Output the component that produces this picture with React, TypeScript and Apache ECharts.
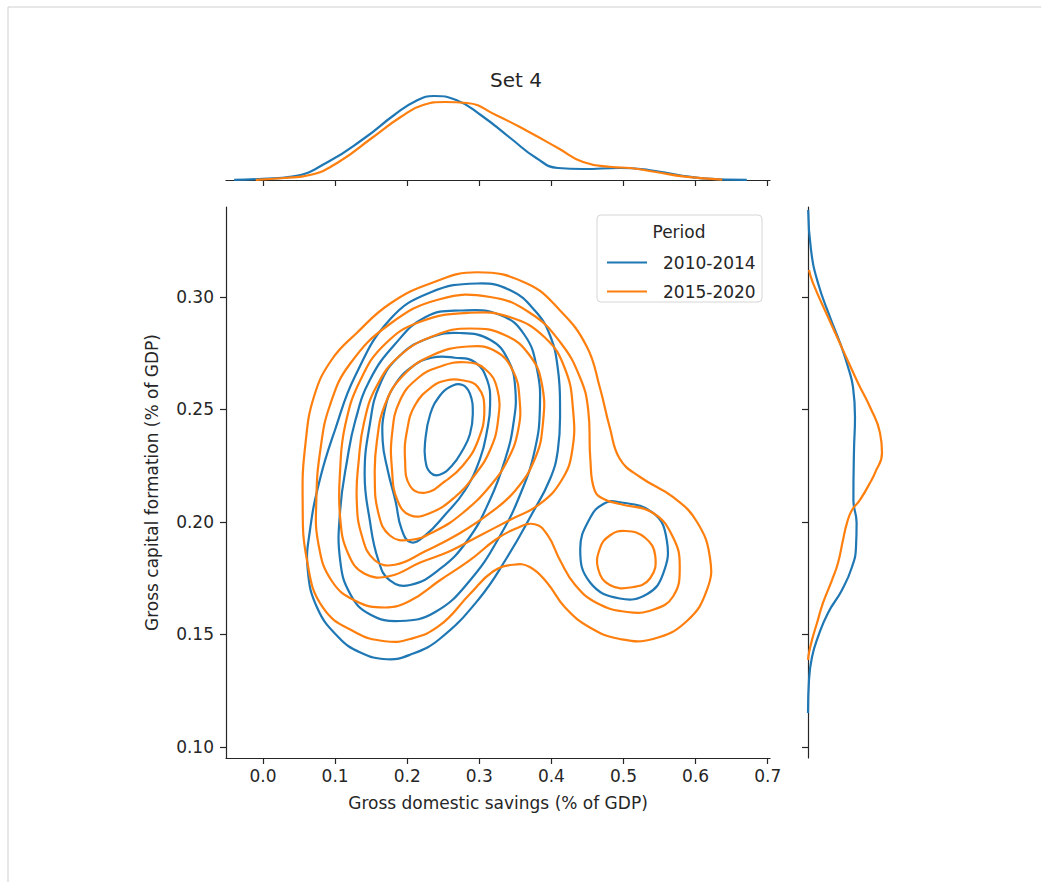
import React, { useEffect, useRef } from "react";
import * as echarts from "echarts";

// ---------- data ----------
const PERIODS = ["2010-2014", "2015-2020"];
const X_TICKS = [0.0, 0.1, 0.2, 0.3, 0.4, 0.5, 0.6, 0.7];
const Y_TICKS = [0.1, 0.15, 0.2, 0.25, 0.3];

// KDE contours (x = Gross domestic savings, y = Gross capital formation), 2010-2014
const BLUE_C1 = [[0.297,0.306],[0.343,0.303],[0.377,0.294],[0.398,0.283],[0.409,0.268],[0.412,0.250],[0.409,0.232],[0.398,0.219],[0.372,0.203],[0.338,0.184],[0.300,0.166],[0.245,0.148],[0.204,0.141],[0.172,0.139],[0.135,0.142],[0.104,0.149],[0.075,0.162],[0.062,0.179],[0.065,0.196],[0.079,0.219],[0.100,0.241],[0.128,0.265],[0.176,0.290],[0.232,0.302]];
const BLUE_C2 = [[0.273,0.294],[0.329,0.292],[0.363,0.283],[0.380,0.268],[0.384,0.250],[0.377,0.232],[0.359,0.214],[0.329,0.194],[0.287,0.174],[0.239,0.160],[0.190,0.156],[0.148,0.159],[0.121,0.168],[0.107,0.183],[0.107,0.205],[0.117,0.228],[0.128,0.245],[0.148,0.263],[0.183,0.279],[0.225,0.291]];
const BLUE_C3 = [[0.273,0.284],[0.315,0.281],[0.340,0.272],[0.350,0.259],[0.347,0.243],[0.336,0.228],[0.315,0.210],[0.284,0.192],[0.245,0.179],[0.204,0.172],[0.176,0.174],[0.160,0.183],[0.148,0.201],[0.141,0.221],[0.148,0.243],[0.162,0.261],[0.190,0.274],[0.232,0.282]];
const BLUE_C4 = [[0.266,0.273],[0.294,0.271],[0.311,0.263],[0.315,0.252],[0.311,0.241],[0.301,0.228],[0.280,0.214],[0.252,0.203],[0.225,0.194],[0.205,0.191],[0.192,0.197],[0.184,0.209],[0.173,0.223],[0.166,0.236],[0.169,0.250],[0.183,0.261],[0.207,0.269],[0.234,0.273]];
const BLUE_C5 = [[0.276,0.261],[0.287,0.257],[0.291,0.248],[0.287,0.239],[0.277,0.232],[0.262,0.225],[0.245,0.221],[0.232,0.222],[0.225,0.228],[0.225,0.236],[0.232,0.248],[0.245,0.256],[0.259,0.260]];
const BLUE_LOBE = [[0.491,0.209],[0.541,0.204],[0.560,0.192],[0.555,0.177],[0.533,0.168],[0.495,0.166],[0.454,0.173],[0.440,0.188],[0.454,0.202],[0.472,0.208]];

// KDE contours, 2015-2020
const ORANGE_C1 = [[0.297,0.311],[0.366,0.306],[0.412,0.294],[0.449,0.278],[0.467,0.260],[0.481,0.242],[0.495,0.228],[0.523,0.220],[0.569,0.211],[0.602,0.200],[0.620,0.184],[0.616,0.170],[0.588,0.156],[0.541,0.148],[0.495,0.148],[0.454,0.153],[0.419,0.162],[0.394,0.173],[0.370,0.180],[0.347,0.181],[0.319,0.178],[0.287,0.168],[0.245,0.154],[0.204,0.148],[0.169,0.147],[0.128,0.151],[0.083,0.162],[0.061,0.183],[0.055,0.210],[0.059,0.235],[0.071,0.256],[0.095,0.272],[0.130,0.284],[0.176,0.297],[0.232,0.306]];
const ORANGE_C2 = [[0.315,0.300],[0.370,0.293],[0.412,0.280],[0.440,0.264],[0.451,0.250],[0.454,0.228],[0.460,0.214],[0.474,0.210],[0.495,0.208],[0.541,0.204],[0.569,0.193],[0.578,0.180],[0.569,0.167],[0.541,0.161],[0.505,0.160],[0.463,0.164],[0.433,0.172],[0.412,0.183],[0.395,0.194],[0.377,0.199],[0.350,0.197],[0.322,0.192],[0.287,0.183],[0.245,0.174],[0.204,0.165],[0.169,0.162],[0.128,0.165],[0.095,0.174],[0.077,0.190],[0.074,0.210],[0.080,0.233],[0.093,0.252],[0.120,0.270],[0.176,0.288],[0.245,0.299]];
const ORANGE_C3 = [[0.287,0.293],[0.343,0.291],[0.391,0.282],[0.419,0.268],[0.430,0.250],[0.429,0.232],[0.415,0.219],[0.384,0.208],[0.343,0.201],[0.301,0.194],[0.259,0.187],[0.218,0.182],[0.176,0.176],[0.141,0.177],[0.118,0.186],[0.107,0.202],[0.107,0.223],[0.114,0.243],[0.135,0.263],[0.169,0.279],[0.218,0.289]];
const ORANGE_C4 = [[0.287,0.286],[0.336,0.283],[0.370,0.274],[0.387,0.261],[0.388,0.243],[0.377,0.228],[0.350,0.214],[0.315,0.204],[0.273,0.195],[0.225,0.187],[0.183,0.181],[0.155,0.183],[0.137,0.194],[0.130,0.210],[0.133,0.228],[0.140,0.244],[0.157,0.260],[0.190,0.274],[0.239,0.283]];
const ORANGE_C5 = [[0.284,0.278],[0.322,0.276],[0.347,0.267],[0.356,0.254],[0.354,0.241],[0.340,0.228],[0.315,0.216],[0.277,0.204],[0.239,0.196],[0.204,0.192],[0.176,0.194],[0.160,0.204],[0.155,0.221],[0.158,0.236],[0.169,0.252],[0.194,0.265],[0.234,0.274]];
const ORANGE_C6 = [[0.280,0.271],[0.308,0.268],[0.325,0.259],[0.326,0.245],[0.315,0.232],[0.294,0.221],[0.266,0.211],[0.232,0.204],[0.204,0.203],[0.186,0.210],[0.179,0.223],[0.179,0.239],[0.190,0.254],[0.215,0.264],[0.245,0.269]];
const ORANGE_C7 = [[0.276,0.263],[0.298,0.260],[0.307,0.250],[0.298,0.236],[0.277,0.225],[0.252,0.218],[0.225,0.213],[0.204,0.216],[0.197,0.228],[0.200,0.241],[0.211,0.252],[0.234,0.260],[0.255,0.263]];
const ORANGE_LOBE = [[0.503,0.196],[0.530,0.193],[0.544,0.185],[0.537,0.175],[0.512,0.171],[0.481,0.172],[0.465,0.179],[0.467,0.188],[0.481,0.194]];

// marginal densities: top (x, density), right (density, y)
const TOP_BLUE = [[-0.04,0.01],[0,0.06],[0.04,0.17],[0.09,0.9],[0.141,2.1],[0.182,3.25],[0.212,3.95],[0.237,4.2],[0.268,4.0],[0.302,3.25],[0.343,2.1],[0.379,1.1],[0.409,0.6],[0.444,0.55],[0.495,0.6],[0.535,0.5],[0.576,0.25],[0.61,0.085],[0.671,0.01]];
const TOP_ORANGE = [[-0.01,0.01],[0.03,0.1],[0.065,0.25],[0.105,0.9],[0.151,2.1],[0.191,3.15],[0.222,3.75],[0.252,3.9],[0.283,3.85],[0.323,3.25],[0.369,2.4],[0.409,1.6],[0.444,0.9],[0.484,0.65],[0.509,0.6],[0.545,0.4],[0.585,0.17],[0.637,0.015]];
const RIGHT_BLUE = [[0.01,0.3387],[0.15,0.3209],[0.5,0.3062],[1.1,0.2911],[1.6,0.2796],[2.0,0.2689],[2.25,0.26],[2.35,0.2467],[2.3,0.232],[2.27,0.2098],[2.43,0.1996],[2.4,0.1889],[2.2,0.18],[1.7,0.1698],[1.0,0.1596],[0.5,0.1489],[0.2,0.14],[0.05,0.1298],[0.0,0.1151]];
const RIGHT_ORANGE = [[0.05,0.312],[0.25,0.3062],[1.0,0.2911],[1.75,0.2764],[2.5,0.2618],[3.1,0.2511],[3.6,0.2396],[3.7,0.2307],[3.35,0.2218],[3.18,0.2187],[2.6,0.2098],[2.2,0.2053],[1.95,0.1996],[1.75,0.192],[1.5,0.1818],[1.2,0.1742],[0.75,0.164],[0.45,0.1551],[0.2,0.1476],[0.05,0.1418],[0,0.1387]];

const BLUE_CONTOURS = [BLUE_C1, BLUE_C2, BLUE_C3, BLUE_C4, BLUE_C5, BLUE_LOBE];
const ORANGE_CONTOURS = [ORANGE_C1, ORANGE_C2, ORANGE_C3, ORANGE_C4, ORANGE_C5, ORANGE_C6, ORANGE_C7, ORANGE_LOBE];

// ---------- styling ----------
const COLORS = ["#1f77b4", "#ff7f0e"];
const FONT = "DejaVu Sans";
const INK = "#262626";
const X_MIN = -0.0513, X_MAX = 0.7032;
const Y_MIN = 0.0951, Y_MAX = 0.34;
const LW = 2.2;

function contourSeries(name: string, color: string, pts: number[][]) {
  return {
    type: "custom",
    name,
    coordinateSystem: "cartesian2d",
    xAxisIndex: 0,
    yAxisIndex: 0,
    data: pts,
    encode: { x: 0, y: 1 },
    itemStyle: { color },
    silent: true,
    z: 2,
    renderItem: (params: any, api: any) => {
      if (params.dataIndex !== 0) return null;
      const points = pts.map((p) => api.coord(p));
      return {
        type: "polygon",
        shape: { points, smooth: 0.45 },
        style: { fill: "none", stroke: color, lineWidth: LW },
      };
    },
  };
}

function lineSeries(name: string, color: string, data: number[][], axis: number) {
  return {
    type: "line",
    name,
    xAxisIndex: axis,
    yAxisIndex: axis,
    data,
    smooth: true,
    showSymbol: false,
    symbol: "none",
    silent: true,
    lineStyle: { color, width: LW },
    itemStyle: { color },
  };
}

const axisLineStyle = { show: true, onZero: false, lineStyle: { color: INK, width: 1.2 } };
const tickStyle = (vals: number[]) => ({ show: true, customValues: vals, length: 6, lineStyle: { color: INK, width: 1.2 } });

export default function App() {
  const ref = useRef<HTMLDivElement>(null);
  useEffect(() => {
    document.body.style.margin = "0";
    const chart = echarts.init(ref.current!, null, { renderer: "svg" });
    const series: any[] = [];
    BLUE_CONTOURS.forEach((c) => series.push(contourSeries(PERIODS[0], COLORS[0], c)));
    ORANGE_CONTOURS.forEach((c) => series.push(contourSeries(PERIODS[1], COLORS[1], c)));
    series.push(lineSeries(PERIODS[0], COLORS[0], TOP_BLUE, 1));
    series.push(lineSeries(PERIODS[1], COLORS[1], TOP_ORANGE, 1));
    series.push(lineSeries(PERIODS[0], COLORS[0], RIGHT_BLUE, 2));
    series.push(lineSeries(PERIODS[1], COLORS[1], RIGHT_ORANGE, 2));

    chart.setOption({
      animation: false,
      textStyle: { fontFamily: FONT },
      grid: [
        { left: 226, top: 207, width: 544, height: 551 },
        { left: 226, top: 80, width: 544, height: 100 },
        { left: 808, top: 207, width: 100, height: 551 },
      ],
      xAxis: [
        {
          gridIndex: 0, type: "value", min: X_MIN, max: X_MAX,
          axisLine: axisLineStyle, axisTick: tickStyle(X_TICKS), splitLine: { show: false },
          axisLabel: { customValues: X_TICKS, formatter: (v: number) => v.toFixed(1), fontSize: 17, color: INK, margin: 9, fontFamily: FONT },
          name: "Gross domestic savings (% of GDP)", nameLocation: "middle", nameGap: 36,
          nameTextStyle: { fontSize: 17, color: INK, fontFamily: FONT },
        },
        {
          gridIndex: 1, type: "value", min: X_MIN, max: X_MAX,
          axisLine: axisLineStyle, axisTick: tickStyle(X_TICKS), splitLine: { show: false },
          axisLabel: { show: false },
        },
        { gridIndex: 2, type: "value", min: 0, max: 5, show: false },
      ],
      yAxis: [
        {
          gridIndex: 0, type: "value", min: Y_MIN, max: Y_MAX,
          axisLine: axisLineStyle, axisTick: tickStyle(Y_TICKS), splitLine: { show: false },
          axisLabel: { customValues: Y_TICKS, formatter: (v: number) => v.toFixed(2), fontSize: 17, color: INK, margin: 12, fontFamily: FONT },
          name: "Gross capital formation (% of GDP)", nameLocation: "middle", nameGap: 66,
          nameTextStyle: { fontSize: 17, color: INK, fontFamily: FONT },
        },
        { gridIndex: 1, type: "value", min: 0, max: 5, show: false },
        {
          gridIndex: 2, type: "value", min: Y_MIN, max: Y_MAX,
          axisLine: axisLineStyle, axisTick: tickStyle(Y_TICKS), splitLine: { show: false },
          axisLabel: { show: false },
        },
      ],
      legend: {
        data: [
          { name: PERIODS[0], itemStyle: { color: COLORS[0] } },
          { name: PERIODS[1], itemStyle: { color: COLORS[1] } },
        ],
        orient: "vertical",
        left: 602,
        top: 249,
        icon: "rect",
        itemWidth: 40,
        itemHeight: 2,
        itemGap: 12,
        selectedMode: false,
        textStyle: { fontSize: 17, color: INK, fontFamily: FONT, lineHeight: 17, padding: [0, 0, 0, 11] },
      },
      graphic: [
        { type: "line", shape: { x1: 8, y1: 7, x2: 1041, y2: 7 }, style: { stroke: "#cfcfcf", lineWidth: 1 } },
        { type: "line", shape: { x1: 8, y1: 7, x2: 8, y2: 882 }, style: { stroke: "#cfcfcf", lineWidth: 1 } },
        {
          type: "text", x: 516, y: 80,
          style: { text: "Set 4", fontSize: 20, fontFamily: FONT, fill: INK, align: "center", verticalAlign: "middle" },
        },
        {
          type: "rect", z: 3, shape: { x: 597, y: 215, width: 165, height: 87, r: 4 },
          style: { fill: "rgba(255,255,255,0.85)", stroke: "#d6d6d6", lineWidth: 1 },
        },
        {
          type: "text", z: 5, x: 679, y: 232,
          style: { text: "Period", fontSize: 17, fontFamily: FONT, fill: INK, align: "center", verticalAlign: "middle" },
        },
      ],
      series,
    });
    return () => chart.dispose();
  }, []);
  return <div ref={ref} style={{ width: 1041, height: 882 }} />;
}
